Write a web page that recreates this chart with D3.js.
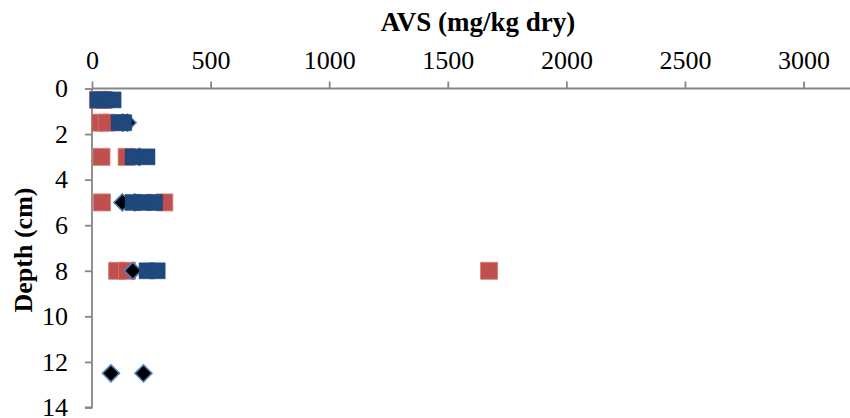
<!DOCTYPE html>
<html>
<head>
<meta charset="utf-8">
<script src="https://cdn.jsdelivr.net/npm/d3@7"></script>
<style>
  html, body { margin: 0; padding: 0; background: #fff; }
  svg { display: block; }
  text { font-family: "Liberation Serif", "Times New Roman", serif; fill: #000; }
</style>
</head>
<body>
<script>
// AVS concentration (mg/kg dry) by sediment depth (cm), three sampling series
const redDepth   = [0.5, 0.5, 1.5, 1.5, 3, 3, 5, 5, 8, 8, 8];
const redAVS     = [25, 45, 35, 62, 40, 146, 42, 305, 106, 148, 1674];

const diamondDepth = [1.5, 1.5, 3, 5, 5, 8, 12.5, 12.5];
const diamondAVS   = [130, 150, 199, 128, 180, 172, 80, 217];

const blueDepth  = [0.5, 0.5, 0.5, 1.5, 1.5, 3, 3, 5, 5, 5, 8, 8];
const blueAVS    = [25, 55, 89, 114, 134, 173, 232, 173, 220, 264, 232, 275];

const xTicks = [0, 500, 1000, 1500, 2000, 2500, 3000];
const yTicks = [0, 2, 4, 6, 8, 10, 12, 14];

const W = 850, H = 418;
const svg = d3.select("body").append("svg").attr("width", W).attr("height", H);

const x = d3.scaleLinear().domain([0, 3200]).range([92, 851]);
const y = d3.scaleLinear().domain([0, 14]).range([88.5, 407.5]);

const axisColor = "#868686";

// top x axis
const xAxis = svg.append("g")
  .attr("transform", `translate(0,${y(0)})`)
  .call(d3.axisTop(x).tickValues(xTicks).tickSize(7).tickPadding(13).tickFormat(d3.format("d")));
// left y axis
const yAxis = svg.append("g")
  .attr("transform", `translate(${x(0)},0)`)
  .call(d3.axisLeft(y).tickValues(yTicks).tickSize(7).tickPadding(17).tickFormat(d3.format("d")));

[xAxis, yAxis].forEach(g => {
  g.select(".domain").attr("stroke", axisColor).attr("stroke-width", 1.8);
  g.selectAll(".tick line").attr("stroke", axisColor).attr("stroke-width", 1.8);
  g.selectAll(".tick text")
    .attr("font-family", "Liberation Serif, Times New Roman, serif")
    .attr("font-size", 26).attr("fill", "#000");
});
yAxis.select(".domain").attr("d", `M-7,${y(14)}H0V${y(0)}`);
xAxis.select(".domain").attr("d", `M${x(0)},0H${W}`);

// axis titles
svg.append("text")
  .attr("x", 478).attr("y", 31)
  .attr("text-anchor", "middle")
  .attr("font-size", 27).attr("font-weight", "bold")
  .text("AVS (mg/kg dry)");

svg.append("text")
  .attr("transform", `translate(32,${250}) rotate(-90)`)
  .attr("text-anchor", "middle")
  .attr("font-size", 26).attr("font-weight", "bold")
  .text("Depth (cm)");

const plot = svg.append("g");
const squareSym = d3.symbol().type(d3.symbolSquare).size(17 * 17);
const diamondSym = d3.symbol().type(d3.symbolSquare).size(12 * 12);

// red series
plot.selectAll(".red").data(d3.zip(redAVS, redDepth)).join("path")
  .attr("class", "red")
  .attr("d", squareSym)
  .attr("transform", d => `translate(${x(d[0])},${y(d[1])})`)
  .attr("fill", "#c0504d")
  .attr("stroke", "#d27a77").attr("stroke-width", 0.8);

// diamond series
plot.selectAll(".dia").data(d3.zip(diamondAVS, diamondDepth)).join("path")
  .attr("class", "dia")
  .attr("d", diamondSym)
  .attr("transform", d => `translate(${x(d[0])},${y(d[1])}) rotate(45)`)
  .attr("fill", "#000")
  .attr("stroke", "#4f81bd").attr("stroke-width", 1.6);

// blue series
plot.selectAll(".blue").data(d3.zip(blueAVS, blueDepth)).join("path")
  .attr("class", "blue")
  .attr("d", d3.symbol().type(d3.symbolSquare).size(16 * 16))
  .attr("transform", d => `translate(${x(d[0])},${y(d[1])})`)
  .attr("fill", "#1f497d")
  .attr("stroke", "#1f497d").attr("stroke-width", 0.5);
</script>
</body>
</html>
